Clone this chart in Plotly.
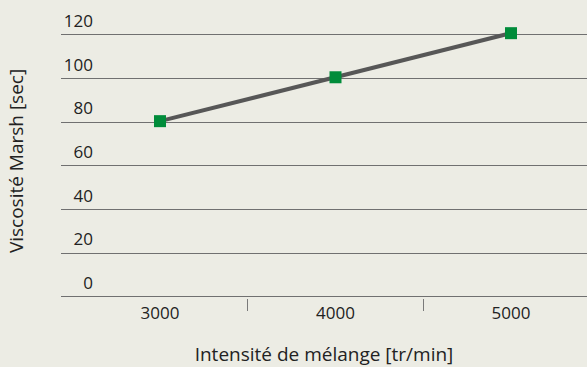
import plotly.graph_objects as go

categories = ["3000", "4000", "5000"]
viscosity = [80.5, 100.6, 120.8]
y_ticks = [0, 20, 40, 60, 80, 100, 120]

x_title = "Intensité de mélange [tr/min]"
y_title = "Viscosité Marsh [sec]"

BG = "#ECECE4"
GRID = "#707070"
TEXT = "#222222"
FONT = "Open Sans"
NBSP = "\u00a0"

W, H = 587, 367
ML = 61
x_range = [-0.564, len(categories) - 1 + 0.433]
boundaries = [i + 0.5 for i in range(len(categories) - 1)]

fig = go.Figure()
fig.add_trace(go.Scatter(
    x=categories, y=viscosity, mode="lines+markers",
    line=dict(color="#575757", width=4),
    marker=dict(symbol="square", size=12, color="#008C3A"),
    cliponaxis=False, showlegend=False,
))
# invisible helper trace so the boundary-tick axis is drawn
fig.add_trace(go.Scatter(
    x=boundaries, y=[y_ticks[0]] * len(boundaries), xaxis="x2",
    mode="markers", marker=dict(opacity=0), hoverinfo="skip", showlegend=False,
))

fig.update_layout(
    width=W, height=H,
    paper_bgcolor=BG, plot_bgcolor=BG,
    margin=dict(l=ML, r=0, t=24, b=69),
    font=dict(family=FONT, size=17, color=TEXT),
    xaxis=dict(
        type="category", range=x_range,
        showgrid=False, zeroline=False, showline=False, ticks="",
        ticklabelstandoff=3,
        title=dict(text=x_title + NBSP * 2, standoff=25, font=dict(size=19)),
    ),
    xaxis2=dict(
        overlaying="x", anchor="y", side="bottom", type="linear", range=x_range,
        tickvals=boundaries, ticks="outside", ticklen=12, tickcolor="#7a7a7a",
        tickwidth=1, showticklabels=False, showgrid=False, zeroline=False,
        showline=False,
    ),
    yaxis=dict(
        range=[-0.5, 125], tickvals=y_ticks,
        anchor="free", position=(93 - ML) / (W - ML),
        showgrid=True, gridcolor=GRID, gridwidth=1,
        zeroline=False, showline=False, ticks="",
        ticklabelposition="outside top", ticklabelshift=-2,
        title=dict(text=NBSP * 3 + y_title, standoff=34, font=dict(size=19)),
    ),
)

fig.write_html("out.html", config={"displayModeBar": False},
               post_script="document.body.style.margin='0';")
